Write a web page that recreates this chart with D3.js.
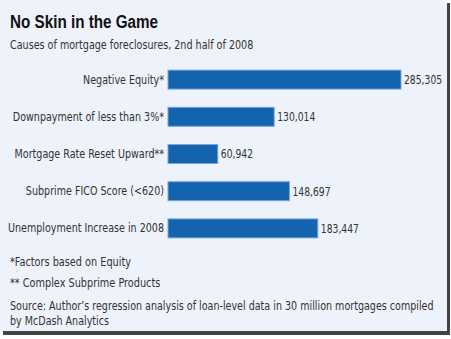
<!DOCTYPE html>
<html><head><meta charset="utf-8">
<script src="https://cdn.jsdelivr.net/npm/d3@7/dist/d3.min.js"></script>
<style>
html,body{margin:0;padding:0;background:#fff;}
svg{display:block;}
</style></head>
<body>
<script>
const categories = ["Negative Equity*", "Downpayment of less than 3%*", "Mortgage Rate Reset Upward**", "Subprime FICO Score (<620)", "Unemployment Increase in 2008"];
const values = [285305, 130014, 60942, 148697, 183447];
const title = "No Skin in the Game";
const subtitle = "Causes of mortgage foreclosures, 2nd half of 2008";
const notes = ["*Factors based on Equity", "** Complex Subprime Products"];
const source = ["Source: Author’s regression analysis of loan-level data in 30 million mortgages compiled", "by McDash Analytics"];

const W = 451, H = 339;
const svg = d3.select("body").append("svg").attr("width", W).attr("height", H);
const font = "'DejaVu Sans Condensed', 'DejaVu Sans', sans-serif";

// horizontally condense text (the original uses a narrow typeface)
function squeeze(sel, k) {
  sel.each(function () {
    const w = this.getComputedTextLength();
    d3.select(this).attr("textLength", w * k).attr("lengthAdjust", "spacingAndGlyphs");
  });
}

// shadow + panel
svg.append("rect").attr("x", 3).attr("y", 3).attr("width", 447).attr("height", 332).attr("fill", "#444");
svg.append("rect").attr("x", 0).attr("y", 0).attr("width", 447).attr("height", 331).attr("fill", "#eef2fb");

svg.append("text").attr("x", 10).attr("y", 28).text(title)
  .attr("font-family", "'Liberation Sans', sans-serif").attr("font-weight", "bold")
  .attr("font-size", 17.5).attr("fill", "#111").call(squeeze, 0.87);
svg.append("text").attr("x", 10).attr("y", 49).text(subtitle)
  .attr("font-family", font).attr("font-size", 12.5).attr("fill", "#333").call(squeeze, 0.853);

const x = d3.scaleLinear().domain([0, 285305]).range([168, 401]);
const y = d3.scaleBand().domain(categories).range([61, 247]).paddingInner(0.49).paddingOuter(0.245);

const g = svg.append("g");
g.selectAll("rect.bar").data(values).join("rect").attr("class", "bar")
  .attr("x", x(0)).attr("y", (d, i) => y(categories[i]))
  .attr("width", d => x(d) - x(0)).attr("height", y.bandwidth())
  .attr("fill", "#1463ae").attr("stroke", "#7aa6d8").attr("stroke-width", 1);

const axis = d3.axisLeft(y).tickSize(0).tickPadding(4);
const ag = svg.append("g").attr("transform", `translate(${x(0)},0)`).call(axis);
ag.select(".domain").remove();
ag.selectAll("text").attr("font-family", font).attr("font-size", 12.5).attr("fill", "#333").call(squeeze, 0.85);

g.selectAll("text.val").data(values).join("text").attr("class", "val")
  .attr("x", d => x(d) + 3).attr("y", (d, i) => y(categories[i]) + y.bandwidth() / 2)
  .attr("dy", "0.35em").text(d => d3.format(",")(d))
  .attr("font-family", font).attr("font-size", 12.5).attr("fill", "#333").call(squeeze, 0.82);

svg.append("g").selectAll("text").data(notes).join("text")
  .attr("x", 10).attr("y", (d, i) => 266 + i * 21).text(d => d)
  .attr("font-family", font).attr("font-size", 12).attr("fill", "#333").call(squeeze, 0.9);
svg.append("g").selectAll("text").data(source).join("text")
  .attr("x", 10).attr("y", (d, i) => 310 + i * 15).text(d => d)
  .attr("font-family", font).attr("font-size", 12.5).attr("fill", "#333").call(squeeze, 0.85);
</script>
</body></html>
